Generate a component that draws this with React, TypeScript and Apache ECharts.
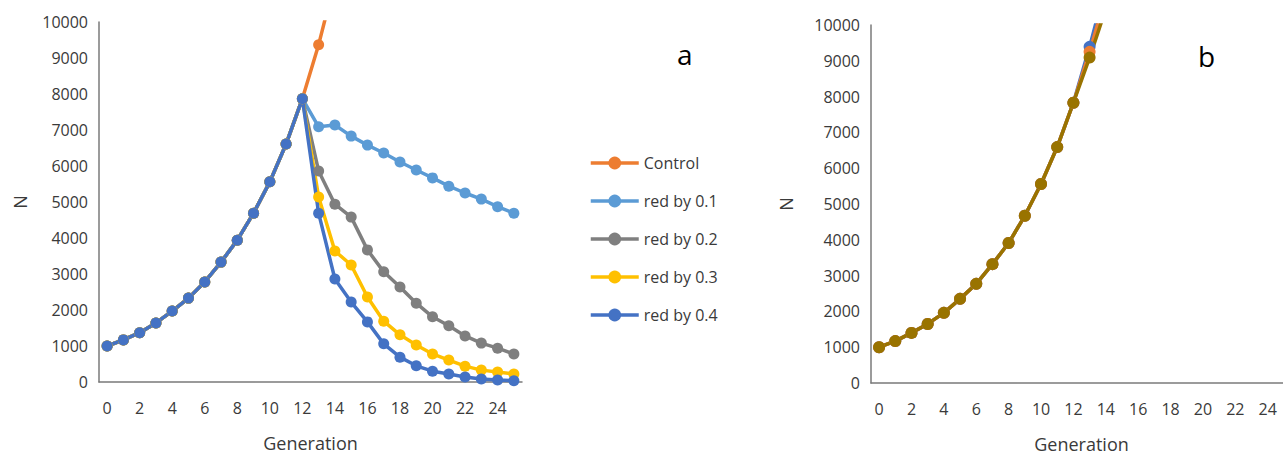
import React, { useEffect, useRef } from "react";
import * as echarts from "echarts";

const generations = ["0","1","2","3","4","5","6","7","8","9","10","11","12","13","14","15","16","17","18","19","20","21","22","23","24","25"];

// Chart a
const sharedA = [1000, 1170, 1370, 1640, 1970, 2330, 2780, 3330, 3940, 4690, 5560, 6610, 7870];
const control = [...sharedA, 9370, 11150];
const red01 = [...sharedA, 7090, 7140, 6830, 6580, 6360, 6110, 5890, 5670, 5440, 5250, 5080, 4870, 4690];
const red02 = [...sharedA, 5860, 4940, 4580, 3670, 3060, 2640, 2190, 1810, 1560, 1280, 1080, 940, 780];
const red03 = [...sharedA, 5140, 3640, 3250, 2360, 1690, 1310, 1030, 780, 610, 440, 330, 280, 220];
const red04 = [...sharedA, 4690, 2860, 2220, 1670, 1060, 690, 450, 300, 220, 140, 85, 55, 35];

// Chart b
const sharedB = [1000, 1170, 1400, 1650, 1960, 2350, 2770, 3320, 3910, 4670, 5560, 6590, 7830];
const bBlue = [...sharedB, 9390, 11100];
const bOrange = [...sharedB, 9250, 10800];
const bOlive = [...sharedB, 9090, 10450];

const seriesA = [
  { name: "Control", data: control, color: "#ED7D31" },
  { name: "red by 0.1", data: red01, color: "#5B9BD5" },
  { name: "red by 0.2", data: red02, color: "#7F7F7F" },
  { name: "red by 0.3", data: red03, color: "#FFC000" },
  { name: "red by 0.4", data: red04, color: "#4472C4" },
];
const seriesB = [
  { name: "b1", data: bBlue, color: "#4472C4" },
  { name: "b2", data: bOrange, color: "#ED7D31" },
  { name: "b3", data: bOlive, color: "#997300" },
];

const FONT = "Open Sans";
const LABEL = "#3a3a3a";

export default function App() {
  const ref = useRef<HTMLDivElement>(null);
  useEffect(() => {
    if (!ref.current) return;
    const chart = echarts.init(ref.current, null, { renderer: "svg" });
    const xAxisBase = (gridIndex: number) => ({
      type: "category",
      gridIndex,
      data: generations,
      boundaryGap: true,
      axisLine: { show: true, lineStyle: { color: "#7a7a7a", width: 1.5 } },
      axisTick: { show: false },
      axisLabel: { interval: 1, color: LABEL, fontFamily: FONT, fontSize: 16, margin: 18 },
      name: "Generation",
      nameLocation: "middle",
      nameGap: 52,
      nameTextStyle: { color: LABEL, fontFamily: FONT, fontSize: 18 },
      splitLine: { show: false },
    });
    const yAxisBase = (gridIndex: number, gap: number) => ({
      type: "value",
      gridIndex,
      min: 0,
      max: 10000,
      interval: 1000,
      axisLine: { show: true, lineStyle: { color: "#7a7a7a", width: 1.5 } },
      axisTick: { show: false },
      splitLine: { show: false },
      axisLabel: {
        color: LABEL,
        fontFamily: FONT,
        fontSize: 16,
        margin: 11,
        formatter: (v: number) => String(v),
      },
      name: "N",
      nameLocation: "middle",
      nameGap: gap,
      nameRotate: 90,
      nameTextStyle: { color: LABEL, fontFamily: FONT, fontSize: 18 },
    });
    const mk = (s: any, idx: number, size: number) => ({
      type: "line",
      name: s.name,
      data: s.data,
      xAxisIndex: idx,
      yAxisIndex: idx,
      color: s.color,
      symbol: "circle",
      symbolSize: size,
      showAllSymbol: true,
      clip: true,
      lineStyle: { width: 3.5, color: s.color },
      itemStyle: { color: s.color },
    });
    chart.setOption({
      animation: false,
      textStyle: { fontFamily: FONT },
      grid: [
        { left: 99, top: 22, width: 423, height: 360, outerBoundsMode: "none", containLabel: false },
        { left: 871, top: 25, width: 421, height: 358, outerBoundsMode: "none", containLabel: false },
      ],
      xAxis: [xAxisBase(0), xAxisBase(1)],
      yAxis: [yAxisBase(0, 70), yAxisBase(1, 76)],
      legend: {
        data: seriesA.map((s) => s.name),
        orient: "vertical",
        left: 584,
        top: 150,
        itemWidth: 48,
        itemHeight: 16,
        itemGap: 22,
        lineStyle: { width: 3.5 },
        textStyle: { color: LABEL, fontFamily: FONT, fontSize: 16 },
      },
      graphic: [
        { type: "text", left: 677, top: 40, style: { text: "a", fontSize: 28, fontFamily: FONT, fill: "#000" } },
        { type: "text", left: 1198, top: 42, style: { text: "b", fontSize: 28, fontFamily: FONT, fill: "#000" } },
      ],
      series: [
        ...seriesA.map((s) => mk(s, 0, 11)),
        ...seriesB.map((s) => mk(s, 1, 12)),
      ],
    });
    return () => chart.dispose();
  }, []);
  return (
    <div
      ref={ref}
      style={{ position: "absolute", left: 0, top: 0, width: 1283, height: 457, background: "#fff" }}
    />
  );
}
